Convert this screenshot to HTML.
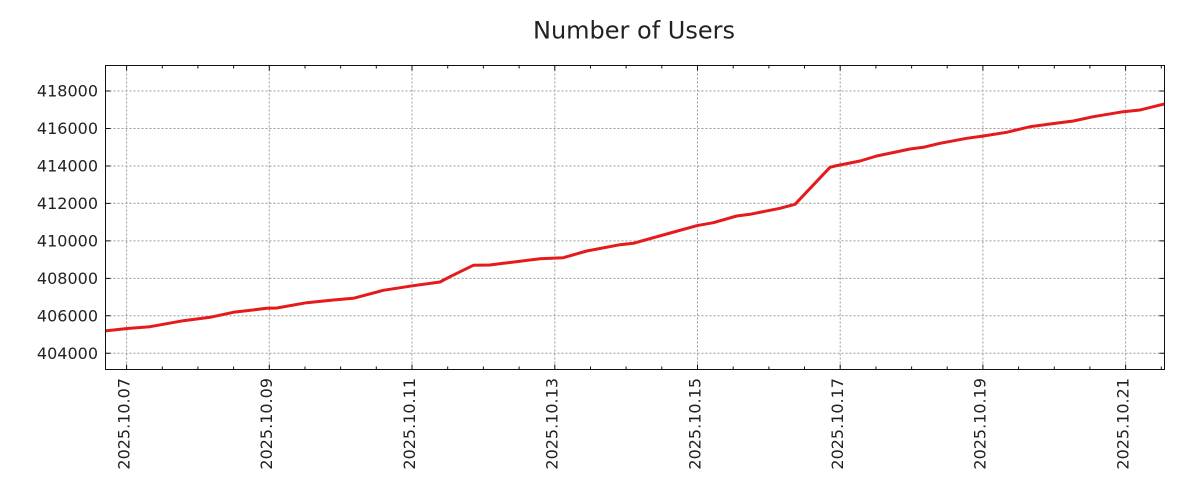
<!DOCTYPE html>
<html>
<head>
<meta charset="utf-8">
<style>
  html, body { margin: 0; padding: 0; background: #ffffff; }
  svg { display: block; }
  text { font-family: "DejaVu Sans", "Liberation Sans", sans-serif; fill: #222; }
</style>
</head>
<body>
<svg width="1200" height="500" viewBox="0 0 1200 500" xmlns="http://www.w3.org/2000/svg">
  <rect x="0" y="0" width="1200" height="500" fill="#ffffff"/>
  <text x="634" y="38.3" font-size="24" text-anchor="middle">Number of Users</text>

  <defs>
    <clipPath id="plot"><rect x="105.5" y="65.5" width="1059" height="304"/></clipPath>
  </defs>

  <!-- grid -->
  <g stroke="#999" stroke-width="1" stroke-dasharray="2,2" fill="none">
    <line x1="105.5" x2="1164.5" y1="353.3" y2="353.3"/>
    <line x1="105.5" x2="1164.5" y1="315.8" y2="315.8"/>
    <line x1="105.5" x2="1164.5" y1="278.4" y2="278.4"/>
    <line x1="105.5" x2="1164.5" y1="240.9" y2="240.9"/>
    <line x1="105.5" x2="1164.5" y1="203.4" y2="203.4"/>
    <line x1="105.5" x2="1164.5" y1="166" y2="166"/>
    <line x1="105.5" x2="1164.5" y1="128.5" y2="128.5"/>
    <line x1="105.5" x2="1164.5" y1="91" y2="91"/>
    <line y1="65.5" y2="369.5" x1="126.6" x2="126.6"/>
    <line y1="65.5" y2="369.5" x1="269.3" x2="269.3"/>
    <line y1="65.5" y2="369.5" x1="412" x2="412"/>
    <line y1="65.5" y2="369.5" x1="554.8" x2="554.8"/>
    <line y1="65.5" y2="369.5" x1="697.5" x2="697.5"/>
    <line y1="65.5" y2="369.5" x1="840.2" x2="840.2"/>
    <line y1="65.5" y2="369.5" x1="982.9" x2="982.9"/>
    <line y1="65.5" y2="369.5" x1="1125.6" x2="1125.6"/>
  </g>

  <!-- data line -->
  <polyline clip-path="url(#plot)" fill="none" stroke="#e41a1c" stroke-width="3" stroke-linejoin="round" stroke-linecap="round"
    points="104,331 125,328.7 150,326.7 183.3,320.7 210,317.3 233.3,312.3 266.7,308.3 276.7,308 306.7,302.7 333.3,300 353.3,298.3 383.3,290.3 413.3,285.7 440,282 450,276.7 473.3,265.3 490,265 503.3,263.3 540,258.7 563.3,257.7 586.7,251 620,244.7 633.3,243.3 666.7,234 696.7,225.7 713.3,222.7 736.7,216 750,214.3 780,208.3 795,204.3 830,167.3 835,166 860,161 876.7,156 910,149 923.3,147.3 940,143.3 966.7,138.3 983.3,136 1006.7,132.3 1030,126.7 1050,124 1073.3,121 1093.3,116.7 1123.3,111.7 1140,110 1166,103.6"/>

  <!-- ticks -->
  <g stroke="#111" stroke-width="1">
    <path d="M105.5 353.3h5M105.5 315.8h5M105.5 278.4h5M105.5 240.9h5M105.5 203.4h5M105.5 166h5M105.5 128.5h5M105.5 91h5"/>
    <path d="M1164.5 353.3h-5M1164.5 315.8h-5M1164.5 278.4h-5M1164.5 240.9h-5M1164.5 203.4h-5M1164.5 166h-5M1164.5 128.5h-5M1164.5 91h-5"/>
    <path d="M126.6 369.5v-5M269.3 369.5v-5M412 369.5v-5M554.8 369.5v-5M697.5 369.5v-5M840.2 369.5v-5M982.9 369.5v-5M1125.6 369.5v-5"/>
    <path d="M126.6 65.5v5M269.3 65.5v5M412 65.5v5M554.8 65.5v5M697.5 65.5v5M840.2 65.5v5M982.9 65.5v5M1125.6 65.5v5"/>
    <path d="M162.3 369.5v-3M197.9 369.5v-3M233.6 369.5v-3M305 369.5v-3M340.6 369.5v-3M376.3 369.5v-3M447.7 369.5v-3M483.4 369.5v-3M519.1 369.5v-3M590.5 369.5v-3M626.1 369.5v-3M661.8 369.5v-3M733.2 369.5v-3M768.9 369.5v-3M804.5 369.5v-3M875.9 369.5v-3M911.6 369.5v-3M947.2 369.5v-3M1018.6 369.5v-3M1054.3 369.5v-3M1089.9 369.5v-3M1161.3 369.5v-3"/>
    <path d="M162.3 65.5v3M197.9 65.5v3M233.6 65.5v3M305 65.5v3M340.6 65.5v3M376.3 65.5v3M447.7 65.5v3M483.4 65.5v3M519.1 65.5v3M590.5 65.5v3M626.1 65.5v3M661.8 65.5v3M733.2 65.5v3M768.9 65.5v3M804.5 65.5v3M875.9 65.5v3M911.6 65.5v3M947.2 65.5v3M1018.6 65.5v3M1054.3 65.5v3M1089.9 65.5v3M1161.3 65.5v3"/>
  </g>

  <!-- frame -->
  <rect x="105.5" y="65.5" width="1059" height="304" fill="none" stroke="#111" stroke-width="1"/>

  <!-- y labels -->
  <g font-size="16" text-anchor="end">
    <text x="98" y="359">404000</text>
    <text x="98" y="321.5">406000</text>
    <text x="98" y="284.1">408000</text>
    <text x="98" y="246.6">410000</text>
    <text x="98" y="209.1">412000</text>
    <text x="98" y="171.7">414000</text>
    <text x="98" y="134.2">416000</text>
    <text x="98" y="96.7">418000</text>
  </g>

  <!-- x labels -->
  <g font-size="16" text-anchor="end">
    <text transform="translate(129.4,378) rotate(-90)">2025.10.07</text>
    <text transform="translate(272.1,378) rotate(-90)">2025.10.09</text>
    <text transform="translate(414.8,378) rotate(-90)">2025.10.11</text>
    <text transform="translate(557.6,378) rotate(-90)">2025.10.13</text>
    <text transform="translate(700.3,378) rotate(-90)">2025.10.15</text>
    <text transform="translate(843,378) rotate(-90)">2025.10.17</text>
    <text transform="translate(985.7,378) rotate(-90)">2025.10.19</text>
    <text transform="translate(1128.4,378) rotate(-90)">2025.10.21</text>
  </g>
</svg>
</body>
</html>
